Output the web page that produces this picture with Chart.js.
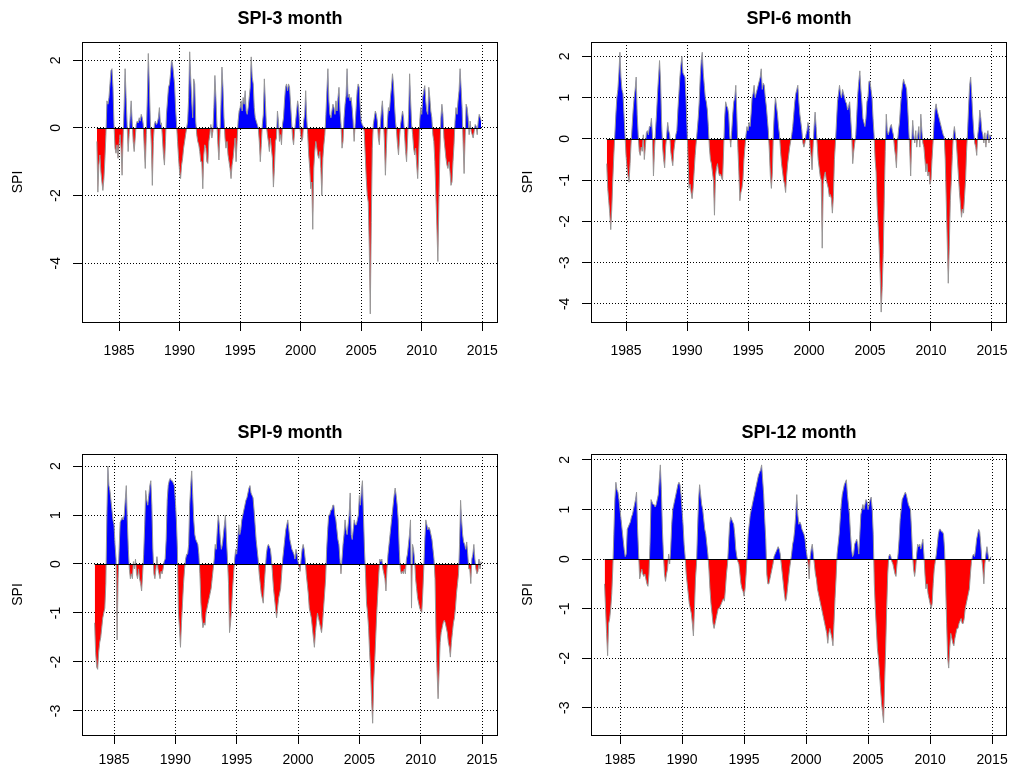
<!DOCTYPE html>
<html>
<head>
<meta charset="utf-8">
<title>SPI time series</title>
<script src="https://cdn.jsdelivr.net/npm/chart.js@4.4.1/dist/chart.umd.min.js"></script>
<style>
  body { margin: 0; background: #fff; }
  canvas { position: absolute; }
</style>
</head>
<body>
<canvas id="spi3" width="510" height="380" style="left:0;top:0;width:510px;height:380px"></canvas>
<canvas id="spi6" width="505" height="380" style="left:510px;top:0;width:505px;height:380px"></canvas>
<canvas id="spi9" width="510" height="388" style="left:0;top:390px;width:510px;height:388px"></canvas>
<canvas id="spi12" width="505" height="388" style="left:510px;top:390px;width:505px;height:388px"></canvas>
<script>
// monthly series, first value = Jan 1983
const startYear = 1983;
const xTicks = [1985, 1990, 1995, 2000, 2005, 2010, 2015];

const spi3 = [
  null, null, -0.4, -1.9, -1.1, -0.8, -1.3, -1.6, -1.85, -1.5, -0.9, -0.2,
  0.8, 0.7, 0.9, 1.3, 1.7, 1.75, 1.2, 0.1, -0.6, -0.75, -0.5, -0.9,
  -0.5, -0.2, -0.6, -1.4, -0.3, 0.6, 1.75, 0.9, 0.1, -0.7, -0.2, 0.3,
  0.8, 0.2, -0.4, -0.7, -0.3, 0.1, 0.2, 0.15, 0.3, 0.2, 0.4, 0.3,
  0.1, -0.6, -1.2, -0.2, 0.9, 2.2, 1.3, 0.2, -0.5, -1.7, -0.4, 0.1,
  0.2, 0.1, 0.15, 0.3, 0.6, 0.1, 0.15, -0.3, -0.8, -1.1, -0.4, 0.4,
  0.8, 1.2, 1.3, 1.6, 2.0, 1.9, 1.6, 1.3, 0.6, 0.1, -0.4, -0.9,
  -1.3, -1.5, -1.1, -0.9, -0.6, -0.4, -0.2, 0.0, 0.2, 0.9, 2.25, 1.5,
  0.8, 0.3, 1.45, 1.3, 0.2, -0.2, -0.4, -0.5, -0.7, -1.0, -1.0, -1.8,
  -0.8, -0.5, -0.6, -1.0, -1.05, -0.4, -0.2, 0.1, -0.3, -0.1, 0.6, 1.55,
  0.9, 0.1, -0.5, -0.95, -0.2, 0.7, 1.8, 1.2, 0.3, -0.3, -0.6, -0.4,
  -0.8, -1.0, -1.2, -1.5, -1.1, -0.9, -0.6, -0.3, -1.0, -0.4, 0.2, 0.5,
  0.6, 0.8, 0.5, 0.9, 0.7, 1.1, 0.5, 0.4, 0.6, 0.9, 1.2, 2.1,
  1.5, 1.3, 0.6, 0.3, 0.2, 0.1, 0.0, -0.4, -1.0, -0.5, 0.1, 0.4,
  1.45, 0.8, 0.1, -0.2, -0.4, -0.7, -0.3, -0.6, -0.9, -1.75, -1.2, -0.4,
  -0.3, 0.5, 0.2, -0.4, -0.2, -0.5, 0.1, 0.3, 0.8, 1.2, 1.3, 1.1,
  1.3, 1.2, 0.7, 0.2, -0.3, -0.5, -0.1, 0.2, 0.5, 0.8, 0.6, 0.1,
  -0.2, -0.4, -0.3, 0.2, 0.4, 1.1, 0.3, -0.2, -0.8, -1.2, -1.8, -1.6,
  -3.0, -1.2, -0.7, -0.4, -0.6, -0.8, -0.9, -0.7, -1.2, -2.0, -0.9, -0.5,
  -0.2, 0.4, 1.1, 1.75, 0.8, 0.4, 0.3, 0.5, 0.7, 0.6, 0.4, 0.8,
  0.5, 0.9, 1.2, 0.5, 0.1, -0.6, -0.4, 0.3, 0.7, 0.95, 1.75, 0.9,
  1.0, 0.8, 0.9, 0.6, 0.2, -0.4, 0.1, 0.6, 1.1, 1.3, 1.2, 0.6,
  0.2, 0.1, 0.05, -0.1, -0.8, -1.5, -2.0, -2.2, -3.5, -5.5, -2.8, -0.6,
  0.1, 0.3, 0.5, 0.4, 0.2, -0.3, -0.5, 0.1, 0.5, 0.8, 0.3, -0.4,
  -1.4, -0.6, 0.2, 0.6, 0.5, 0.9, 1.2, 1.6, 1.3, 0.7, 0.2, -0.1,
  -0.5, -0.8, -0.3, 0.1, 0.3, 0.5, 0.3, -0.2, -0.7, -1.0, -0.3, 0.4,
  1.6, 0.8, 0.1, -0.2, -0.6, -0.8, -0.6, -1.1, -1.5, -0.8, 0.2, 0.6,
  0.4, 0.9, 1.1, 1.25, 0.8, 0.5, 0.4, 1.2, 0.9, 0.5, 0.3, -0.2,
  -0.4, -1.0, -2.0, -2.9, -3.95, -2.2, -0.8, 0.3, 0.7, 0.4, -0.3, -0.6,
  -0.9, -1.1, -1.2, -1.0, -1.3, -1.7, -1.6, -1.0, -0.5, 0.2, 0.6, 0.4,
  0.8, 1.1, 1.75, 1.2, 0.6, -0.4, -1.35, -0.3, 0.7, 0.6, 0.3, -0.2,
  0.2, -0.1, -0.2, -0.3, -0.1, 0.1, 0.05, -0.2, 0.2, 0.4, 0.3, 0.2
];

const spi6 = [
  null, null, null, null, null, -0.6, -1.2, -1.5, -1.8, -2.2, -1.7, -1.0,
  -0.4, 0.1, 0.6, 1.0, 1.2, 1.6, 2.1, 1.5, 1.2, 1.1, 0.6, 0.1,
  -0.4, -0.7, -0.9, -1.05, -0.6, -0.1, 0.3, 0.7, 1.0, 1.2, 1.5, 0.6,
  0.1, -0.3, -0.4, -0.2, -0.3, 0.1, -0.5, -0.2, 0.15, 0.2, 0.1, 0.3,
  0.3, 0.5, 0.1, -0.9, -0.3, 0.2, 0.6, 1.1, 1.5, 1.9, 1.4, 0.4,
  -0.2, -0.5, -0.7, -0.2, 0.1, 0.4, 0.2, 0.1, -0.3, -0.5, -0.65, -0.3,
  -0.1, 0.1, 0.2, 0.7, 1.1, 1.5, 1.8, 2.0, 1.6, 1.55, 1.5, 1.0,
  0.3, -0.5, -1.2, -1.1, -1.3, -1.45, -1.2, -0.8, -0.4, -0.1, 0.2, 0.5,
  0.9, 1.5, 1.9, 2.1, 1.6, 1.3, 1.0, 0.9, 0.7, 0.3, -0.2, -0.5,
  -0.6, -0.8, -1.0, -1.85, -0.9, -0.7, -0.6, -0.8, -0.9, -0.85, -0.95, -1.0,
  -0.3, 0.5, 0.9, 0.8, 0.75, 0.6, 0.1, -0.2, 0.2, 0.6, 0.9, 1.0,
  1.3, 0.6, -0.2, -0.8, -1.5, -1.3, -1.2, -1.0, -0.5, -0.2, 0.1, 0.3,
  0.2, 0.4, 0.3, 0.6, 1.0, 1.1, 1.3, 1.0, 1.1, 1.2, 1.3, 1.4,
  1.5, 1.7, 1.2, 1.35, 1.3, 1.0, 0.8, 0.5, 0.2, -0.3, -0.9, -1.2,
  -0.8, 0.2, 0.7, 1.0, 0.8, 0.6, 0.3, 0.1, -0.3, -0.6, -0.8, -1.0,
  -1.1, -1.3, -0.9, -0.6, -0.4, -0.2, -0.05, 0.1, 0.3, 0.6, 0.9, 1.1,
  1.2, 1.3, 0.9, 0.6, 0.4, 0.2, -0.1, -0.2, -0.1, 0.1, 0.2, 0.4,
  0.3, -0.2, -0.4, -0.75, -0.2, 0.3, 0.65, 0.3, -0.1, -0.5, -0.7, -0.9,
  -1.0, -2.65, -1.1, -0.9, -0.8, -1.0, -1.1, -1.2, -1.4, -1.35, -1.45, -1.8,
  -1.4, -0.5, -0.1, 0.4, 0.9, 1.1, 1.3, 1.1, 1.0, 1.2, 1.1, 1.0,
  0.9, 0.85, 0.7, 0.8, 0.9, 0.5, 0.1, -0.6, -0.3, -0.1, 0.1, 0.6,
  1.1, 1.4, 1.65, 1.2, 0.9, 0.5, 0.4, 0.3, 0.5, 0.9, 1.0, 1.4,
  1.4, 1.2, 1.0, 0.5, 0.1, -0.5, -0.8, -1.6, -2.1, -2.6, -3.3, -4.2,
  -3.6, -2.8, -1.5, -0.3, 0.6, 0.2, 0.1, 0.2, 0.3, 0.35, 0.2, 0.1,
  -0.2, -0.4, -0.7, -0.1, 0.2, 0.4, 0.8, 1.1, 1.3, 1.45, 1.35, 1.3,
  1.2, 0.8, 0.3, -0.2, -0.9, -0.1, 0.45, 0.1, -0.1, 0.2, -0.2, 0.1,
  0.3, -0.2, 0.6, 0.2, -0.1, -0.2, -0.5, -0.8, -0.6, -0.9, -0.8, -1.1,
  -1.0, -0.5, -0.1, 0.4, 0.7, 0.85, 0.7, 0.6, 0.5, 0.4, 0.3, 0.2,
  0.1, 0.05, -0.5, -1.5, -2.5, -3.5, -2.6, -1.5, -1.0, -0.4, 0.1, 0.3,
  0.1, -0.1, -0.5, -0.9, -1.3, -1.6, -1.9, -1.7, -1.8, -1.4, -1.0, -0.3,
  0.2, 0.8, 1.3, 1.5, 1.1, 0.6, 0.2, -0.1, -0.2, -0.4, 0.1, 0.3,
  0.7, 0.5, 0.2, 0.1, -0.1, 0.15, -0.2, 0.1, 0.2, -0.1, 0.1, 0.05
];

const spi9 = [
  null, null, null, null, null, -1.2, -1.8, -2.1, -2.15, -1.8, -1.6, -1.5,
  -1.3, -1.1, -1.0, -0.9, -0.4, 1.0, 2.0, 1.6, 1.5, 1.3, 1.1, 0.9,
  0.8, 0.4, 0.1, -1.55, -0.3, 0.3, 0.85, 0.9, 0.95, 0.9, 1.0, 1.3,
  1.6, 0.9, 0.3, -0.1, -0.3, -0.2, -0.3, 0.05, -0.1, 0.1, -0.2, -0.3,
  -0.1, -0.3, -0.4, -0.55, -0.2, 0.2, 0.8, 1.5, 1.3, 1.2, 1.4, 1.6,
  1.7, 1.2, 0.3, -0.2, -0.3, -0.1, 0.15, -0.1, -0.2, -0.3, -0.15, -0.2,
  -0.1, 0.05, 0.1, 0.5, 1.3, 1.6, 1.7, 1.75, 1.7, 1.7, 1.65, 1.6,
  1.3, 0.9, 0.3, -1.0, -1.3, -1.7, -1.2, -0.8, -0.4, -0.1, 0.1, 0.2,
  0.2, 0.4, 1.2, 1.6, 1.9, 1.4, 0.9, 0.6, 0.5, 0.45, 0.4, 0.2,
  -0.2, -0.8, -1.1, -1.3, -1.2, -1.25, -1.0, -0.9, -0.8, -0.7, -0.6, -0.5,
  -0.3, -0.1, 0.1, 0.4, 0.3, 0.7, 1.0, 0.8, 0.5, 0.3, 0.4, 0.6,
  0.8, 1.0, 0.5, 0.1, -0.4, -1.4, -1.2, -0.9, -0.5, -0.2, 0.1, 0.3,
  0.2, 0.5, 0.8, 0.6, 0.7, 0.9, 1.0, 1.1, 1.2, 1.3, 1.35, 1.45,
  1.55, 1.6, 1.45, 1.4, 1.35, 1.1, 0.8, 0.5, 0.3, 0.1, -0.2, -0.4,
  -0.6, -0.7, -0.8, -0.4, -0.1, 0.2, 0.35, 0.4, 0.35, 0.3, 0.1, -0.2,
  -0.5, -0.7, -0.9, -1.1, -0.9, -0.7, -0.6, -0.5, -0.2, 0.1, 0.3, 0.5,
  0.7, 0.8, 0.9, 0.7, 0.5, 0.4, 0.3, 0.25, 0.2, 0.1, 0.3, 0.2,
  0.05, -0.05, -0.15, 0.1, 0.3, 0.4, 0.3, 0.1, -0.2, -0.4, -0.6, -0.9,
  -1.0, -1.1, -1.3, -1.5, -1.7, -1.4, -1.2, -1.0, -1.1, -1.2, -1.3, -1.4,
  -1.2, -0.9, -0.6, -0.3, 0.3, 0.7, 1.0, 1.0, 1.1, 1.1, 1.2, 1.2,
  1.0, 0.9, 0.7, 0.5, 0.4, 0.1, -0.2, 0.1, 0.4, 0.6, 0.9, 0.7,
  0.6, 0.8, 1.0, 1.45, 0.6, 0.5, 0.7, 0.9, 0.8, 0.8, 0.9, 1.0,
  1.4, 1.2, 1.5, 1.7, 1.0, 0.3, -0.2, -0.8, -1.0, -1.3, -1.8, -2.2,
  -2.8, -3.25, -2.4, -2.0, -1.5, -1.0, -0.6, -0.2, 0.1, 0.05, 0.1, -0.1,
  -0.2, -0.3, -0.55, -0.1, 0.2, 0.4, 0.6, 0.8, 1.0, 1.2, 1.4, 1.55,
  1.4, 1.2, 0.9, 0.3, -0.1, -0.2, -0.15, -0.2, -0.1, -0.2, 0.1, 0.2,
  0.4, 0.6, 0.9, -0.9, 0.4, 0.3, 0.1, -0.3, -0.5, -0.7, -0.8, -0.9,
  -0.95, -1.0, -0.6, -0.1, 0.5, 0.9, 0.8, 0.7, 0.75, 0.7, 0.6, 0.5,
  0.3, 0.1, -0.3, -1.5, -2.2, -2.75, -2.2, -1.6, -1.4, -1.3, -1.2, -1.15,
  -1.2, -1.3, -1.4, -1.6, -1.7, -1.9, -1.6, -1.4, -1.2, -1.1, -0.9, -0.6,
  -0.4, -0.2, 0.4, 1.3, 0.9, 0.6, 0.45, 0.4, 0.3, 0.45, 0.2, -0.1,
  -0.1, -0.4, 0.1, 0.2, 0.4, 0.1, -0.1, -0.2, -0.15, 0.1, -0.1, 0.05
];

const spi12 = [
  null, null, null, null, null, null, null, null, null, -0.5, -1.0, -1.5,
  -1.95, -1.3, -1.2, -1.0, -0.7, -0.2, 0.5, 1.2, 1.55, 1.4, 1.35, 1.2,
  1.0, 0.8, 0.6, 0.4, 0.2, 0.05, 0.1, 0.6, 0.65, 0.7, 0.75, 0.85,
  0.9, 1.0, 1.1, 1.2, 1.35, 0.6, 0.1, -0.4, -0.3, -0.2, -0.3, -0.35,
  -0.3, -0.4, -0.5, -0.55, -0.3, 0.3, 1.2, 1.15, 1.1, 1.1, 1.05, 1.1,
  1.2, 1.3, 1.6, 1.9, 1.4, 0.6, 0.1, -0.3, -0.45, -0.3, -0.2, 0.1,
  -0.1, 0.2, 0.7, 1.0, 1.1, 1.2, 1.3, 1.4, 1.5, 1.55, 1.5, 1.3,
  1.0, 0.7, 0.3, 0.05, -0.3, -0.5, -0.7, -0.9, -1.0, -1.1, -1.3, -1.55,
  -1.0, -0.4, -0.1, 0.6, 1.2, 1.5, 1.3, 1.1, 1.0, 0.8, 0.6, 0.5,
  0.3, 0.1, -0.2, -0.6, -0.9, -1.1, -1.3, -1.4, -1.3, -1.2, -1.1, -1.0,
  -1.0, -0.95, -0.9, -0.85, -0.8, -0.85, -0.6, -0.3, -0.1, 0.3, 0.7, 0.85,
  0.8, 0.75, 0.7, 0.5, 0.2, 0.05, -0.05, -0.1, -0.3, -0.5, -0.6, -0.65,
  -0.75, -0.6, -0.3, 0.1, 0.5, 0.7, 0.9, 1.0, 1.1, 1.2, 1.3, 1.4,
  1.5, 1.6, 1.7, 1.75, 1.8, 1.9, 1.6, 1.3, 0.8, 0.4, -0.3, -0.5,
  -0.5, -0.4, -0.3, -0.2, -0.1, 0.05, 0.1, 0.15, 0.2, 0.25, 0.2, 0.1,
  -0.1, -0.3, -0.5, -0.7, -0.85, -0.8, -0.6, -0.4, -0.2, -0.05, 0.1, 0.3,
  0.4, 0.6, 0.9, 1.3, 0.9, 0.7, 0.75, 0.7, 0.6, 0.55, 0.5, 0.4,
  0.2, 0.05, -0.1, -0.4, 0.05, 0.2, 0.3, 0.1, -0.1, -0.3, -0.4, -0.6,
  -0.7, -0.8, -0.9, -1.0, -1.1, -1.2, -1.3, -1.4, -1.5, -1.7, -1.5, -1.4,
  -1.5, -1.6, -1.75, -1.3, -0.8, -0.4, 0.1, 0.3, 0.5, 0.8, 1.1, 1.3,
  1.4, 1.5, 1.55, 1.6, 1.3, 1.1, 0.9, 0.5, 0.2, 0.05, 0.1, 0.3,
  0.35, 0.4, 0.3, 0.1, 0.5, 0.9, 1.0, 1.1, 1.0, 1.1, 1.2, 1.15,
  1.0, 1.1, 1.2, 1.25, 1.0, 0.5, -0.5, -1.0, -1.4, -1.8, -2.0, -2.3,
  -2.6, -2.9, -3.1, -3.3, -2.5, -1.8, -1.0, -0.3, 0.05, 0.1, 0.05, -0.05,
  -0.1, -0.2, -0.3, -0.35, -0.1, 0.1, 0.4, 0.8, 1.0, 1.2, 1.25, 1.3,
  1.35, 1.3, 1.2, 1.1, 1.05, 1.0, 0.6, 0.1, -0.2, -0.35, -0.2, 0.1,
  0.3, 0.25, 0.3, 0.2, 0.3, 0.4, 0.1, -0.3, -0.6, -0.5, -0.7, -0.8,
  -0.9, -1.0, -0.9, -0.5, -0.2, -0.05, 0.1, 0.3, 0.5, 0.6, 0.6, 0.55,
  0.55, 0.5, 0.2, -0.5, -1.3, -2.0, -2.2, -1.8, -1.5, -1.6, -1.7, -1.75,
  -1.6, -1.5, -1.4, -1.4, -1.3, -1.25, -1.2, -1.3, -1.3, -1.2, -1.0, -0.9,
  -0.8, -0.7, -0.6, -0.3, -0.05, 0.05, 0.1, 0.05, 0.2, 0.4, 0.5, 0.6,
  0.55, 0.3, 0.0, -0.2, -0.5, -0.1, 0.1, 0.25, 0.1, -0.05, 0.0, 0.05
];

Chart.defaults.font.family = "'Liberation Sans', Arial, Helvetica, sans-serif";
Chart.defaults.font.size = 14;
Chart.defaults.color = '#000';

// box round the plot and the solid zero line over the data span
const frame = {
  id: 'frame',
  afterDatasetsDraw(chart) {
    const { ctx, chartArea: a, scales: { x, y } } = chart;
    const pts = chart.data.datasets[0].data.filter(p => p.y !== null);
    const y0 = Math.round(y.getPixelForValue(0)) + 0.5;
    ctx.save();
    ctx.strokeStyle = '#000';
    ctx.lineWidth = 1;
    ctx.beginPath();
    ctx.moveTo(x.getPixelForValue(pts[0].x), y0);
    ctx.lineTo(x.getPixelForValue(pts[pts.length - 1].x), y0);
    ctx.stroke();
    ctx.strokeRect(Math.round(a.left) + 0.5, Math.round(a.top) + 0.5,
      Math.round(a.width) - 1, Math.round(a.height));
    ctx.restore();
  }
};

function drawPanel(id, title, values, p) {
  const pts = values.map((v, i) => ({ x: startYear + i / 12, y: v }));
  new Chart(document.getElementById(id), {
    type: 'line',
    data: {
      datasets: [{
        data: pts,
        borderColor: '#969696',
        borderWidth: 1,
        pointRadius: 0,
        tension: 0,
        fill: { target: 'origin', above: '#0000ff', below: '#ff0000' }
      }]
    },
    options: {
      responsive: false,
      animation: false,
      events: [],
      layout: { padding: { left: 0, top: 0, right: p.padRight, bottom: 0 } },
      plugins: {
        legend: { display: false },
        tooltip: { enabled: false },
        title: {
          display: true,
          text: title,
          fullSize: false,
          font: { size: 18, weight: 'bold' },
          padding: { top: p.titleTop, bottom: p.titleBottom }
        }
      },
      scales: {
        x: {
          type: 'linear',
          min: p.xMin,
          max: p.xMax,
          afterBuildTicks: s => { s.ticks = xTicks.map(v => ({ value: v })); },
          ticks: { padding: p.xPad, callback: v => String(v) },
          grid: { color: '#000', tickLength: 9, tickColor: '#000', tickBorderDash: [] },
          border: { display: false, dash: [1, 2] },
          afterFit: s => { s.height = p.xHeight; s.paddingLeft = 0; s.paddingRight = 0; }
        },
        y: {
          type: 'linear',
          min: p.yMin,
          max: p.yMax,
          ticks: {
            stepSize: p.yStep,
            includeBounds: false,
            minRotation: 90,
            maxRotation: 90,
            crossAlign: 'center',
            padding: 11,
            callback: v => String(v)
          },
          grid: { color: '#000', tickLength: 9, tickColor: '#000', tickBorderDash: [] },
          border: { display: false, dash: [1, 2] },
          title: { display: true, text: 'SPI', font: { size: 14 }, padding: { top: 10, bottom: 0 } },
          afterFit: s => { s.width = p.yWidth; s.paddingTop = 0; s.paddingBottom = 0; }
        }
      }
    },
    plugins: [frame]
  });
}

drawPanel('spi3', 'SPI-3 month', spi3, {
  padRight: 12, yWidth: 82, xHeight: 58, xPad: 12, titleTop: 8, titleBottom: 12.4,
  xMin: 1981.94, xMax: 2016.3, yMin: -5.74, yMax: 2.54, yStep: 2
});
drawPanel('spi6', 'SPI-6 month', spi6, {
  padRight: 8, yWidth: 81, xHeight: 58, xPad: 12, titleTop: 8, titleBottom: 12.4,
  xMin: 1982.13, xMax: 2016.23, yMin: -4.44, yMax: 2.35, yStep: 1
});
drawPanel('spi9', 'SPI-9 month', spi9, {
  padRight: 12, yWidth: 82, xHeight: 43, xPad: 8, titleTop: 32.4, titleBottom: 10,
  xMin: 1982.39, xMax: 2016.3, yMin: -3.49, yMax: 2.245, yStep: 1
});
drawPanel('spi12', 'SPI-12 month', spi12, {
  padRight: 8, yWidth: 81, xHeight: 43, xPad: 8, titleTop: 32.4, titleBottom: 10,
  xMin: 1982.66, xMax: 2016.2, yMin: -3.55, yMax: 2.12, yStep: 1
});
</script>
</body>
</html>
